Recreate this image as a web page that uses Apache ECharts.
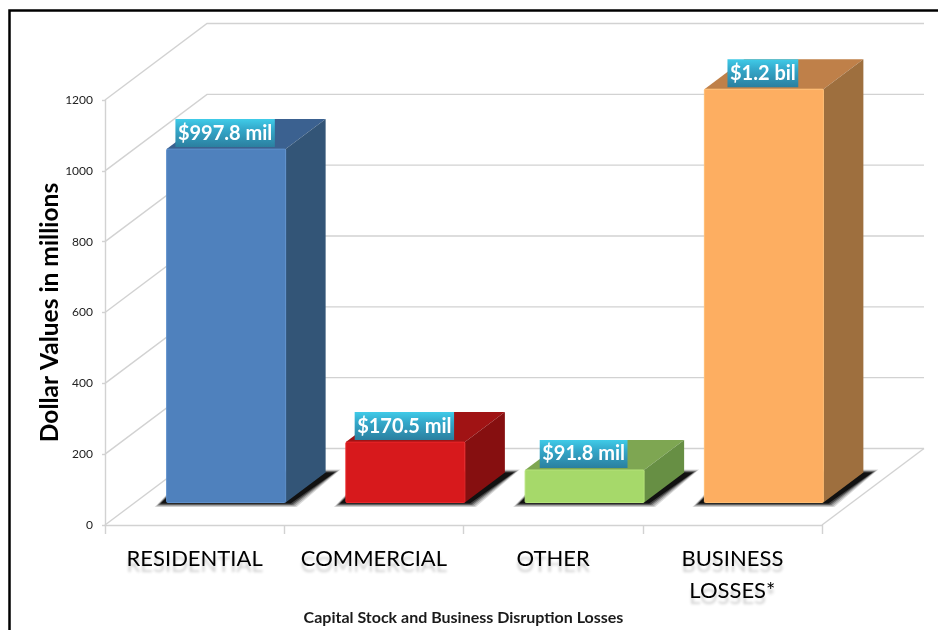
<!DOCTYPE html>
<html>
<head>
<meta charset="utf-8">
<style>html,body{margin:0;padding:0;background:#fff}#c{width:938px;height:630px}</style>
<script src="https://cdn.jsdelivr.net/npm/echarts@6/dist/echarts.min.js"></script>
</head>
<body>
<div id="c"></div>
<script>
const categories = ['RESIDENTIAL', 'COMMERCIAL', 'OTHER', 'BUSINESS\nLOSSES*'];
const values = [997.8, 170.5, 91.8, 1167];
const valueLabels = ['$997.8 mil', '$170.5 mil', '$91.8 mil', '$1.2 bil'];
const yTicks = [0, 200, 400, 600, 800, 1000, 1200];
const yMax = 1200;
const yStep = 200;
const yTitle = 'Dollar Values in millions';
const xTitle = 'Capital Stock and Business Disruption Losses';
const frontColors = ['#4F81BD', '#D7191C', '#A6D96A', '#FDAE61'];
const sideColors = ['#335577', '#860F10', '#678F44', '#9E6F3E'];
const topColors = ['#3B6190', '#A01314', '#7EA652', '#BF8049'];
const edgeColors = ['#5E90CC', '#E8282B', '#B5E37A', '#FFBD72'];

const FONT = 'Lato, "Open Sans", sans-serif';
const GRID = '#d2d2d2';
const WALL = { dx: 102, dy: -76.5 };
const DEPTH = { dx: 40, dy: -30 };
const SEAT = { dx: 31.5, dy: -22.5 };
const BAR_W = 119;
const LABEL_FONT = 'bold 20px ' + FONT;
const SHADOW_LAYERS = [[6, 0.14], [4.5, 0.2], [3, 0.3], [1.5, 0.45], [0, 0.75]];
const measure = document.createElement('canvas').getContext('2d');

function poly(points, fill) {
  return {
    type: 'polygon',
    shape: { points },
    style: { fill, lineJoin: 'round' }
  };
}

function renderWall(params, api) {
  const v = api.value(1);
  const p = api.coord([0, v]);
  const band = api.size([1, 0])[0];
  const left = p[0] - band / 2;
  const right = left + band * categories.length;
  const y = p[1];
  const style = { stroke: GRID, lineWidth: 1.4, fill: 'none' };
  const children = [{
    type: 'polyline',
    shape: { points: [[left, y], [left + WALL.dx, y + WALL.dy], [right + WALL.dx, y + WALL.dy]] },
    style
  }];
  if (v === 0) {
    children.push({
      type: 'line',
      shape: { x1: right, y1: y, x2: right + WALL.dx, y2: y + WALL.dy },
      style
    });
  }
  return { type: 'group', children };
}

function renderBar(params, api) {
  const i = api.value(0);
  const v = api.value(1);
  const base = api.coord([i, 0]);
  const tip = api.coord([i, v]);
  const L = base[0] + SEAT.dx - BAR_W / 2;
  const R = L + BAR_W;
  const B = base[1] + SEAT.dy;
  const T = B - (base[1] - tip[1]);
  const dx = DEPTH.dx, dy = DEPTH.dy;

  const text = valueLabels[i];
  measure.font = LABEL_FONT;
  const w = measure.measureText(text).width + 5;
  const cx = (L + R) / 2 - 1;
  const boxH = 28;
  const boxTop = T + dy;

  const shadows = SHADOW_LAYERS.map(([e, a]) => poly([
    [L - 6 - e, B + 1 + e * 0.6],
    [R + 5 + e, B + 1 + e * 0.6],
    [R + dx + 9 + e, B + dy - e * 0.5],
    [L + dx, B + dy - e * 0.5],
    [L, B - 5 - e * 0.5]
  ], 'rgba(0,0,0,' + a + ')'));

  return {
    type: 'group',
    children: shadows.concat([
      poly([[L, T], [L + dx, T + dy], [R + dx, T + dy], [R, T]], topColors[i]),
      poly([[R, T], [R + dx, T + dy], [R + dx, B + dy], [R, B]], sideColors[i]),
      {
        type: 'rect',
        shape: { x: L, y: T, width: BAR_W, height: B - T, r: 1 },
        style: { fill: frontColors[i], stroke: edgeColors[i], lineWidth: 1 }
      },
      {
        type: 'rect',
        shape: { x: cx - w / 2, y: boxTop, width: w, height: boxH },
        style: {
          fill: new echarts.graphic.LinearGradient(0, 0, 0, 1, [
            { offset: 0, color: '#40CBE8' },
            { offset: 0.35, color: '#34A9CB' },
            { offset: 1, color: '#2B7F9F' }
          ])
        }
      },
      {
        type: 'text',
        style: {
          text,
          x: cx,
          y: boxTop + boxH / 2,
          align: 'center',
          verticalAlign: 'middle',
          textAlign: 'center',
          textVerticalAlign: 'middle',
          font: LABEL_FONT,
          fill: '#ffffff'
        }
      }
    ])
  };
}

const chart = echarts.init(document.getElementById('c'), null, { renderer: 'canvas' });
chart.setOption({
  animation: false,
  backgroundColor: '#ffffff',
  grid: { left: 105, right: 116, top: 100, bottom: 105, containLabel: false, outerBoundsMode: 'none' },
  graphic: [{
    type: 'polyline',
    silent: true,
    shape: { points: [[9.5, 630], [9.5, 10.5], [938, 10.5]] },
    style: { stroke: '#000000', lineWidth: 2.5, fill: 'none' }
  }],
  xAxis: {
    type: 'category',
    data: categories,
    boundaryGap: true,
    name: xTitle,
    nameLocation: 'middle',
    nameGap: 93,
    nameMoveOverlap: false,
    nameTextStyle: { fontFamily: FONT, fontWeight: 'bold', fontSize: 16, color: '#1a1a1a', verticalAlign: 'middle' },
    axisLine: { lineStyle: { color: GRID, width: 1.4 } },
    axisTick: { show: true, length: 9, lineStyle: { color: GRID, width: 1.4 } },
    axisLabel: {
      interval: 0,
      margin: 18,
      fontFamily: FONT,
      fontSize: 22,
      lineHeight: 32,
      color: '#000000',
      textShadowColor: 'rgba(0,0,0,0.2)',
      textShadowBlur: 3,
      textShadowOffsetY: 6
    }
  },
  yAxis: {
    type: 'value',
    min: 0,
    max: yMax,
    interval: yStep,
    name: yTitle,
    nameLocation: 'middle',
    nameGap: 55,
    nameRotate: 90,
    nameMoveOverlap: false,
    nameTextStyle: { fontFamily: FONT, fontWeight: 'bold', fontSize: 24.5, color: '#000000', verticalAlign: 'middle' },
    splitLine: { show: false },
    axisLine: { show: true, lineStyle: { color: GRID, width: 1.4 } },
    axisTick: { show: true, length: 3, lineStyle: { color: GRID, width: 1.4 } },
    axisLabel: { margin: 12, fontFamily: FONT, fontSize: 12, color: '#222222', formatter: v => String(v) }
  },
  series: [
    {
      type: 'custom',
      silent: true,
      clip: false,
      z: 1,
      renderItem: renderWall,
      encode: { x: 0, y: 1 },
      data: yTicks.map(t => [0, t])
    },
    {
      type: 'custom',
      silent: true,
      clip: false,
      z: 3,
      renderItem: renderBar,
      encode: { x: 0, y: 1 },
      data: values.map((v, i) => [i, v])
    }
  ]
});
</script>
</body>
</html>
